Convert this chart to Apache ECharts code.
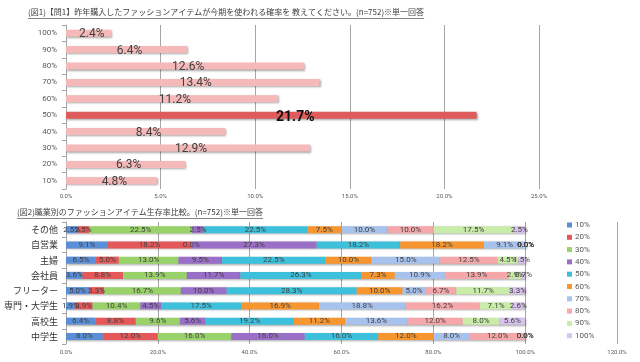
<!DOCTYPE html>
<html>
<head>
<meta charset="utf-8">
<script src="https://cdn.jsdelivr.net/npm/echarts/dist/echarts.min.js"></script>
<style>
html,body{margin:0;padding:0;background:#fff;}
#c{width:640px;height:362px;}
</style>
</head>
<body>
<div id="c"></div>
<script>
// ---- Chart 1 data ----
const title1 = '(図1)【問1】昨年購入したファッションアイテムが今期を使われる確率を 教えてください。(n=752)※単一回答';
const probCats = ['10%','20%','30%','40%','50%','60%','70%','80%','90%','100%'];
const probValues = [4.8, 6.3, 12.9, 8.4, 21.7, 11.2, 13.4, 12.6, 6.4, 2.4];
const xTicks1 = [0, 5, 10, 15, 20, 25];

// ---- Chart 2 data ----
const title2 = '(図2)職業別のファッションアイテム生存率比較。(n=752)※単一回答';
const jobs = ['その他','自営業','主婦','会社員','フリーター','専門・大学生','高校生','中学生'];
const levels = ['10%','20%','30%','40%','50%','60%','70%','80%','90%','100%'];
const sonota   = [2.5, 2.5, 22.5, 2.5, 22.5, 7.5, 10.0, 10.0, 17.5, 2.5];
const jieigyo  = [9.1, 18.2, 0.0, 27.3, 18.2, 18.2, 9.1, 0.0, 0.0, 0.0];
const shufu    = [6.5, 5.0, 13.0, 9.5, 22.5, 10.0, 15.0, 12.5, 4.5, 1.5];
const kaishain = [3.6, 8.8, 13.9, 11.7, 26.3, 7.3, 10.9, 13.9, 2.9, 0.7];
const freeter  = [5.0, 3.3, 16.7, 10.0, 28.3, 10.0, 5.0, 6.7, 11.7, 3.3];
const daigaku  = [1.9, 3.9, 10.4, 4.5, 17.5, 16.9, 18.8, 16.2, 7.1, 2.6];
const koukou   = [6.4, 8.8, 9.6, 5.6, 19.2, 11.2, 13.6, 12.0, 8.0, 5.6];
const chugaku  = [8.0, 12.0, 16.0, 16.0, 16.0, 12.0, 8.0, 12.0, 0.0, 0.0];
const jobRows = [sonota, jieigyo, shufu, kaishain, freeter, daigaku, koukou, chugaku];
const xTicks2 = [0, 20, 40, 60, 80, 100, 120];

const levelColors = ['#5a8fd8','#e5585a','#9ad26a','#9a6fc8','#3cc0dc','#f7962e','#a8c2ee','#f5a7aa','#c9eda9','#d9c3ee'];

const numFont = 'Roboto, "Noto Sans CJK JP", sans-serif';
const jpFont = '"Noto Sans CJK JP", sans-serif';

function textW(t, font){
  const c = document.createElement('canvas').getContext('2d');
  c.font = font; return c.measureText(t).width;
}
const tFont = '8px "Noto Sans CJK JP"';

const chart = echarts.init(document.getElementById('c'), null, {renderer:'canvas'});

const shadow = {shadowColor:'rgba(0,0,0,0.35)', shadowBlur:2, shadowOffsetX:1, shadowOffsetY:1};

const series1Data = probValues.map((v, i) => {
  const d = {value: v};
  if (probCats[i] === '50%') {
    d.itemStyle = {color:'#e05b5b'};
    d.label = {fontSize:14, fontWeight:'bold', color:'#111', offset:[24,2]};
  }
  return d;
});

const stackSeries = levels.map((lv, li) => ({
  name: lv,
  type: 'bar',
  stack: 'all',
  xAxisIndex: 1, yAxisIndex: 1,
  barWidth: 7,
  itemStyle: Object.assign({color: levelColors[li]}, shadow),
  label: {
    show: true, position: 'inside',
    formatter: p => p.value.toFixed(1) + '%',
    fontSize: 8, color: '#404040', fontFamily: numFont
  },
  data: jobRows.map(r => r[li])
}));

const option = {
  backgroundColor: '#fff',
  animation: false,
  graphic: [
    {type:'text', left:28, top:8, style:{text:title1, font:tFont, fill:'#404040'}},
    {type:'line', shape:{x1:28, y1:18.5, x2:28 + textW(title1, tFont), y2:18.5}, style:{stroke:'#505050', lineWidth:0.7}},
    {type:'text', left:17, top:208, style:{text:title2, font:tFont, fill:'#404040'}},
    {type:'line', shape:{x1:17, y1:218.5, x2:17 + textW(title2, tFont), y2:218.5}, style:{stroke:'#505050', lineWidth:0.7}}
  ],
  legend: {
    data: levels,
    orient: 'vertical',
    left: 562, top: 215,
    itemWidth: 5, itemHeight: 5, itemGap: 2.3,
    icon: 'rect',
    textStyle: {fontSize: 8, lineHeight: 10, color: '#595959', fontFamily: numFont, padding:[0,0,0,-2]}
  },
  grid: [
    {left:66, top:25, width:473, height:164},
    {left:66, top:222, width:551, height:122}
  ],
  xAxis: [
    {
      gridIndex:0, type:'value', min:xTicks1[0], max:xTicks1[xTicks1.length-1], interval:5,
      axisLine:{show:false}, axisTick:{show:false},
      splitLine:{show:true, lineStyle:{color:'#a6a6a6', width:1}},
      axisLabel:{fontSize:6, color:'#595959', fontFamily:numFont, margin:4, formatter: v => v.toFixed(1) + '%'}
    },
    {
      gridIndex:1, type:'value', min:xTicks2[0], max:xTicks2[xTicks2.length-1], interval:20,
      axisLine:{show:false}, axisTick:{show:false},
      splitLine:{show:true, lineStyle:{color:'#a6a6a6', width:1}},
      axisLabel:{fontSize:6, color:'#595959', fontFamily:numFont, margin:5, formatter: v => v.toFixed(1) + '%'}
    }
  ],
  yAxis: [
    {
      gridIndex:0, type:'category', data:probCats,
      axisLine:{show:true, lineStyle:{color:'#a6a6a6'}},
      axisTick:{show:true, length:4, lineStyle:{color:'#a6a6a6'}},
      axisLabel:{fontSize:8, color:'#595959', fontFamily:numFont, margin:9}
    },
    {
      gridIndex:1, type:'category', data:jobs, inverse:true,
      axisLine:{show:true, lineStyle:{color:'#a6a6a6'}},
      axisTick:{show:true, length:4, lineStyle:{color:'#a6a6a6'}},
      axisLabel:{fontSize:9, color:'#333', fontFamily:jpFont, margin:8}
    }
  ],
  series: [
    {
      type:'bar', xAxisIndex:0, yAxisIndex:0, barWidth:7,
      itemStyle: Object.assign({color:'#f5b9b9'}, shadow),
      label:{show:true, position:'inside', offset:[3,1], fontSize:12, color:'#404040', fontFamily:numFont,
             formatter: p => p.value.toFixed(1) + '%'},
      data: series1Data
    }
  ].concat(stackSeries)
};
chart.setOption(option);
</script>
</body>
</html>
